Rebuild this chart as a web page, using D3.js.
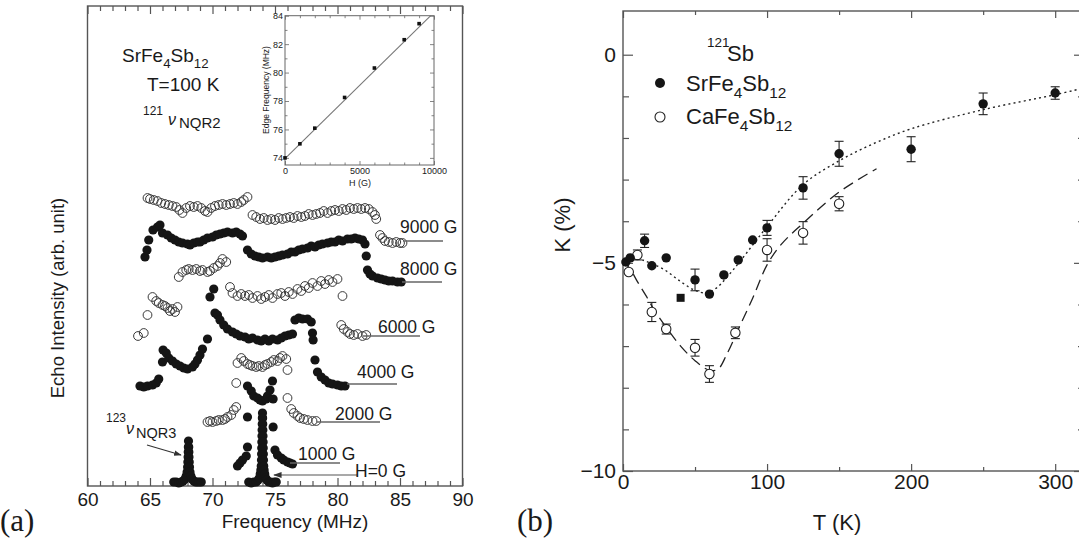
<!DOCTYPE html>
<html><head><meta charset="utf-8">
<script src="https://cdn.jsdelivr.net/npm/d3@7"></script>
<style>
body{margin:0;background:#fff}
svg{display:block}
text{font-family:Arial,"Liberation Sans",Helvetica,sans-serif;fill:#1a1a1a}
</style></head>
<body><svg id="c" width="1079" height="548"></svg>
<script>
// ================= Panel (a) data : [frequency MHz, echo intensity arb.] =================
const freqTicks = [60,65,70,75,80,85,90];
const spec9000 = [[64.8,144],[65.0,143.5],[65.3,143],[65.6,142.5],[65.9,141.5],[66.2,141],[66.5,140.5],[66.8,140],[67.1,139.5],[67.35,138],[67.6,136.5],[67.9,139],[68.2,140],[68.5,139.5],[68.8,140],[69.1,139],[69.4,137.5],[69.6,137],[69.9,139],[70.2,140],[70.5,140.5],[70.8,141],[71.1,140.5],[71.4,141],[71.7,141.5],[72.0,141],[72.3,142],[72.5,143],[72.8,144.5],
[73.2,135.5],[73.5,134.5],[73.8,133.5],[74.1,134],[74.4,133],[74.7,133.5],[75.0,133],[75.3,134],[75.6,133.5],[75.9,134],[76.2,134.5],[76.5,134],[76.8,135],[77.1,134.5],[77.4,135],[77.7,136],[78.0,135.5],[78.3,136],[78.6,136.5],[78.9,137.5],[79.2,136.5],[79.5,137.5],[79.8,138],[80.1,137.5],[80.4,138.5],[80.7,138],[81.0,139],[81.3,138.5],[81.6,139],[81.9,138.5],[82.2,139],[82.5,138.5],[82.8,137],[83.0,135.5],[83.1,133.5],
[83.4,125.5],[83.6,124],[83.8,122.5],[84.1,122],[84.4,121.5],[84.7,122],[85.0,121.5],[85.2,121.5]];
const spec8000 = [[64.6,114.5],[64.76,118],[64.9,123],[65.24,128],[65.6,129.5],[65.8,130.5],[66.0,126.5],[66.4,125.5],[66.7,124],[67.0,123],[67.3,122],[67.6,121.5],[68.0,121],[68.2,120.5],[68.5,121.5],[68.8,122],[69.0,122],[69.3,123],[69.6,124],[70.0,124.5],[70.3,125.5],[70.6,126],[70.9,126.5],[71.2,127],[71.6,126.5],[71.9,127],[72.2,126],[72.4,125],
[72.8,118],[73.1,116],[73.4,115],[73.7,114.5],[74.0,114],[74.4,114.5],[74.7,114],[75.0,114.5],[75.3,115],[75.6,115.5],[76.0,116],[76.3,117],[76.6,117],[76.9,118],[77.2,118.5],[77.6,119],[77.9,120],[78.2,119.5],[78.5,120.5],[78.8,121],[79.2,121.5],[79.5,122],[79.8,122],[80.1,123],[80.4,122.5],[80.8,123.5],[81.1,123.5],[81.4,124],[81.7,123.5],[82.0,123],[82.2,121],[82.3,115],
[82.4,108],[82.6,106],[82.8,105],[83.2,104],[83.5,103.5],[83.8,103],[84.1,102.5],[84.4,102.5],[84.8,102],[85.1,102]];
const spec6000 = [[64.04,75],[64.5,76.5],[64.8,85.5],[65.2,94.5],[65.5,92.5],[65.7,91.5],[66.0,90.5],[66.2,90],[66.4,89],[66.6,87.5],[66.8,88.5],[67.0,87],[67.2,89.5],
[67.3,104.5],[67.6,107],[67.9,108],[68.1,108.5],[68.4,108],[68.7,108.5],[69.0,107.5],[69.2,108],[69.6,107],[69.8,107.5],[70.1,109],[70.4,110],[70.6,111.5],[70.8,113.5],[71.1,112],
[71.4,99.5],[71.6,96.5],[72.0,95],[72.3,96],[72.6,95],[72.9,95.5],[73.2,94],[73.6,95],[73.9,93.5],[74.2,94.5],[74.5,95.5],[74.8,94],[75.2,96],[75.5,96.5],[75.8,95],[76.1,97],[76.4,96],[76.8,98.5],[77.1,97.5],[77.4,100],[77.7,99],[78.0,101.5],[78.4,100],[78.7,102.5],[79.0,101],[79.3,103],[79.6,102],[80.0,103.5],[80.4,95],
[80.3,80.5],[80.5,78.5],[80.8,77],[81.0,76],[81.3,75.5],[81.6,76],[82.0,75],[82.3,75.5]];
const spec4000 = [[64.2,50],[64.5,49.5],[64.8,50],[65.2,50.5],[65.5,51.5],[65.7,53.5],[66.0,62],[66.05,68],
[66.3,66.5],[66.5,64],[66.8,62.5],[67.1,61],[67.4,60],[67.7,59],[68.0,58.5],[68.4,59.5],[68.6,61],[68.8,63],[69.0,65.5],[69.2,68.5],[69.6,73.5],
[69.8,94.5],[70.1,98.5],
[70.2,86.5],[70.4,85.5],[70.6,83],[70.9,80.5],[71.2,78.5],[71.6,77],[71.9,76],[72.2,75],[72.6,74.5],[72.9,73.5],[73.2,74],[73.6,73],[73.9,72.5],[74.2,73.5],[74.5,72.5],[74.8,73.5],[75.2,73],[75.5,74],[75.8,75],[76.1,75.5],[76.4,76],
[76.6,83],[76.9,84],[77.2,83.5],[77.6,83.5],[77.9,82],
[78.0,76.5],[78.05,73],[78.2,63],
[78.4,57],[78.7,54.5],[79.0,53],[79.3,51.5],[79.6,51],[80.0,50.5],[80.3,50],[80.6,50]];
const spec2000 = [[69.6,32],[69.8,32.5],[70.0,32],[70.3,32.5],[70.5,33],[70.8,33],[71.0,33.5],[71.2,34.5],[71.5,35.5],[71.7,38],[71.9,39.5],[71.9,51.5],
[72.0,61.5],[72.3,64],[72.5,62.5],[72.8,61],[73.0,60.5],[73.2,60],[73.5,59.5],[73.7,60],[74.0,59.5],[74.2,60.5],[74.4,61],[74.7,62],[74.9,63],[75.2,62.5],[75.4,64],[75.6,65],[75.9,63.5],[76.0,58],[76.0,44],
[76.3,38.5],[76.5,36.5],[76.8,35],[77.0,34],[77.3,33.5],[77.6,33],[78.0,32.5],[78.3,32.5]];
const spec1000 = [[72.0,10],[72.2,11.5],[72.4,13],[72.7,15],[72.8,19.5],[72.8,34.5],[72.8,50],[73.1,47.5],[73.3,45],[73.6,44],[73.8,43],[74.0,42.5],[74.3,43.5],[74.4,45],[74.6,48],[74.8,52.5],[74.85,43.5],[74.85,29.5],[75.0,18],[75.2,15.5],[75.5,14],[75.7,13],[76.0,12],[76.2,11.5],[76.4,11]];
const spec0 = [[72.9,2],[73.1,1.5],[73.3,2],[73.5,2],[73.65,3],[73.75,4],[73.82,6],[73.87,8],[73.9,10],[73.92,13],[73.93,16],[73.94,19],[73.95,22],[73.96,25],[73.97,28],[73.98,31],[73.99,34],[74.0,36.5],
[74.01,34],[74.02,31],[74.03,28],[74.04,25],[74.05,22],[74.06,19],[74.07,16],[74.08,13],[74.1,10],[74.13,8],[74.18,6],[74.25,4],[74.35,3],[74.5,2],[74.65,2],[74.8,1.5],[74.95,2],[75.1,2]];
const specNQR3 = [[66.9,2],[67.1,2],[67.3,1.5],[67.5,2],[67.65,2.5],[67.8,3.5],[67.9,5],[67.97,7],[68.01,9.5],[68.03,12],[68.05,14.5],[68.06,17],[68.07,19.5],[68.08,22.5],
[68.1,19.5],[68.11,17],[68.12,14.5],[68.14,12],[68.16,9.5],[68.2,7],[68.27,5],[68.37,3.5],[68.5,2.5],[68.65,2],[68.8,2],[68.95,2],[69.1,2]];
const fieldLabels = ["9000 G","8000 G","6000 G","4000 G","2000 G","1000 G"];

// inset data
const insetH = [0,1000,2000,4000,6000,8000,9000];
const insetEdge = [74.0,74.99,76.09,78.25,80.32,82.31,83.44];
const insetFit = [[0,73.95],[9780,84]];

// ================= Panel (b) data =================
const srT   = [2,5,15,20,30,50,60,70,80,90,100,125,150,200,250,300];
const srK   = [-4.98,-4.88,-4.47,-5.07,-4.88,-5.41,-5.75,-5.29,-4.93,-4.45,-4.16,-3.2,-2.38,-2.27,-1.18,-0.92];
const srErr = [0,0,0.16,0,0,0.26,0,0,0,0,0.18,0.27,0.3,0.3,0.26,0.15];
const srSquare = [[40,-5.84]];
const caT   = [4,10,20,30,50,60,78,100,125,150];
const caK   = [-5.22,-4.81,-6.18,-6.59,-7.04,-7.67,-6.68,-4.69,-4.28,-3.58];
const caErr = [0,0.12,0.23,0.12,0.2,0.2,0.14,0.27,0.27,0.17];
const srFit = [[3,-4.8],[15,-4.95],[28,-5.15],[40,-5.45],[50,-5.66],[58,-5.72],[65,-5.6],[72,-5.35],[82,-4.93],[100,-4.13],[125,-3.12],[150,-2.55],[175,-2.12],[200,-1.78],[250,-1.32],[300,-0.96],[320,-0.8]];
const caFit = [[0,-4.95],[5,-5.15],[10,-5.45],[17,-5.85],[22,-6.15],[30,-6.55],[40,-7.0],[50,-7.35],[60,-7.58],[66,-7.55],[72,-7.2],[80,-6.6],[90,-5.85],[100,-5.05],[110,-4.55],[125,-4.05],[150,-3.3],[176,-2.74]];
const tTicks = [0,100,200,300];
const kTicks = [0,-5,-10];

// ================= drawing =================
const svg = d3.select("#c");
const FRAME = "#555";
const defs = svg.append("defs");
defs.append("marker").attr("id","arr").attr("viewBox","0 0 10 10").attr("refX",9).attr("refY",5)
  .attr("markerWidth",7).attr("markerHeight",7).attr("orient","auto-start-reverse")
  .append("path").attr("d","M0,1.5 L10,5 L0,8.5 Z").attr("fill","#333");

function styleAxis(g, fs){
  g.attr("font-size",null).attr("font-family",null);
  g.select(".domain").remove();
  g.selectAll("line").attr("stroke",FRAME).attr("stroke-width",1.2);
  g.selectAll("text").attr("font-size",fs).attr("fill","#1a1a1a");
}
function rich(g, x, y, parts, size, anchor){
  const t = g.append("text").attr("x",x).attr("y",y).attr("font-size",size).attr("text-anchor",anchor||"start");
  let shift = 0;
  parts.forEach(([s,k])=>{
    const target = k==="sub" ? size*0.3 : k==="sup" ? -size*0.42 : 0;
    t.append("tspan").text(s).attr("dy",target-shift).attr("font-size",k? size*0.7 : size);
    shift = target;
  });
  return t;
}

// ---------- Panel (a) ----------
const xA = d3.scaleLinear().domain([60,90]).range([87.5,462.5]);
const yA = d3.scaleLinear().domain([0,240]).range([486,6]);
const gA = svg.append("g");
const minorF = d3.range(60,91).filter(d=>d%5!==0);

gA.append("g").attr("transform",`translate(0,${yA(0)})`)
  .call(d3.axisBottom(xA).tickValues(freqTicks).tickSizeInner(-8).tickSizeOuter(0).tickPadding(7).tickFormat(d3.format("d")))
  .call(g=>styleAxis(g,19));
gA.append("g").attr("transform",`translate(0,${yA(0)})`)
  .call(d3.axisBottom(xA).tickValues(minorF).tickSizeInner(-5).tickSizeOuter(0).tickFormat(""))
  .call(g=>styleAxis(g,19));
gA.append("g").attr("transform",`translate(0,${yA(240)})`)
  .call(d3.axisTop(xA).tickValues(freqTicks).tickSizeInner(-8).tickSizeOuter(0).tickFormat(""))
  .call(g=>styleAxis(g,19));
gA.append("g").attr("transform",`translate(0,${yA(240)})`)
  .call(d3.axisTop(xA).tickValues(minorF).tickSizeInner(-5).tickSizeOuter(0).tickFormat(""))
  .call(g=>styleAxis(g,19));
gA.append("rect").attr("x",xA(60)).attr("y",yA(240)).attr("width",xA(90)-xA(60)).attr("height",yA(0)-yA(240))
  .attr("fill","none").attr("stroke",FRAME).attr("stroke-width",1.4);

const spectra = [
  {data:spec9000, open:true},{data:spec8000, open:false},{data:spec6000, open:true},
  {data:spec4000, open:false},{data:spec2000, open:true},{data:spec1000, open:false},
  {data:spec0, open:false},{data:specNQR3, open:false}
];
spectra.forEach(s=>{
  gA.append("g").selectAll("circle").data(s.data).join("circle")
    .attr("cx",d=>xA(d[0])).attr("cy",d=>yA(d[1])).attr("r",s.open?4.4:4.6)
    .attr("fill",s.open?"none":"#151515")
    .attr("stroke",s.open?"#3a3a3a":"none").attr("stroke-width",1);
});

// field labels with leader lines (pixel positions of annotations)
const labelPos = [
  {tx:400,ty:233,x1:403,x2:443,ly:241},
  {tx:400,ty:275,x1:402,x2:442,ly:282},
  {tx:378,ty:333,x1:363,x2:420,ly:336},
  {tx:357,ty:378,x1:347,x2:397,ly:384},
  {tx:335,ty:420,x1:317,x2:380,ly:422},
  {tx:298,ty:460,x1:290,x2:340,ly:463}
];
fieldLabels.forEach((lab,i)=>{
  const p = labelPos[i];
  gA.append("line").attr("x1",p.x1).attr("x2",p.x2).attr("y1",p.ly).attr("y2",p.ly).attr("stroke","#666").attr("stroke-width",1.3);
  gA.append("text").attr("x",p.tx).attr("y",p.ty).attr("font-size",17.5).text(lab);
});
gA.append("line").attr("x1",357).attr("x2",274).attr("y1",475).attr("y2",475)
  .attr("stroke","#555").attr("stroke-width",1.2).attr("marker-end","url(#arr)");
gA.append("text").attr("x",355).attr("y",477).attr("font-size",17.5).text("H=0 G");
gA.append("line").attr("x1",147).attr("y1",445).attr("x2",181).attr("y2",455)
  .attr("stroke","#333").attr("stroke-width",1.1).attr("marker-end","url(#arr)");

rich(gA,122,62,[["SrFe"],["4","sub"],["Sb"],["12","sub"]],19);
gA.append("text").attr("x",147).attr("y",91).attr("font-size",19).text("T=100 K");
gA.append("text").attr("x",143).attr("y",115).attr("font-size",12).text("121");
gA.append("text").attr("x",168).attr("y",125).attr("font-size",16).attr("font-style","italic").text("ν");
gA.append("text").attr("x",179).attr("y",128).attr("font-size",15).text("NQR2");
gA.append("text").attr("x",106).attr("y",422).attr("font-size",12).text("123");
gA.append("text").attr("x",126).attr("y",434).attr("font-size",16).attr("font-style","italic").text("ν");
gA.append("text").attr("x",136).attr("y",438).attr("font-size",14.5).text("NQR3");

gA.append("text").attr("x",295).attr("y",528).attr("text-anchor","middle").attr("font-size",19).text("Frequency (MHz)");
gA.append("text").attr("transform","translate(64,298) rotate(-90)").attr("text-anchor","middle").attr("font-size",18.5).text("Echo Intensity (arb. unit)");
svg.append("text").attr("x",0).attr("y",531).attr("font-size",31).style("font-family","'Liberation Serif','Times New Roman',serif").text("(a)");

// ---------- Inset ----------
const xI = d3.scaleLinear().domain([0,10000]).range([285,434]);
const yI = d3.scaleLinear().domain([73.5,84]).range([165,15.7]);
const gI = svg.append("g");
gI.append("rect").attr("x",285).attr("y",yI(84)).attr("width",149).attr("height",yI(73.5)-yI(84)).attr("fill","#fff");
const iy = [74,76,78,80,82,84], iyMin=[75,77,79,81,83];
const ix = [0,5000,10000], ixMin=[1000,2000,3000,4000,6000,7000,8000,9000];
gI.append("g").attr("transform","translate(285,0)").call(d3.axisLeft(yI).tickValues(iy).tickSizeInner(-4).tickSizeOuter(0).tickPadding(2)).call(g=>styleAxis(g,9));
gI.append("g").attr("transform","translate(285,0)").call(d3.axisLeft(yI).tickValues(iyMin).tickSizeInner(-2.5).tickSizeOuter(0).tickFormat("")).call(g=>styleAxis(g,9));
gI.append("g").attr("transform","translate(434,0)").call(d3.axisRight(yI).tickValues(iy).tickSizeInner(-4).tickSizeOuter(0).tickFormat("")).call(g=>styleAxis(g,9));
gI.append("g").attr("transform","translate(434,0)").call(d3.axisRight(yI).tickValues(iyMin).tickSizeInner(-2.5).tickSizeOuter(0).tickFormat("")).call(g=>styleAxis(g,9));
gI.append("g").attr("transform",`translate(0,${yI(73.5)})`).call(d3.axisBottom(xI).tickValues(ix).tickSizeInner(-4).tickSizeOuter(0).tickPadding(3).tickFormat(d3.format("d"))).call(g=>styleAxis(g,9));
gI.append("g").attr("transform",`translate(0,${yI(73.5)})`).call(d3.axisBottom(xI).tickValues(ixMin).tickSizeInner(-2.5).tickSizeOuter(0).tickFormat("")).call(g=>styleAxis(g,9));
gI.append("g").attr("transform",`translate(0,${yI(84)})`).call(d3.axisTop(xI).tickValues(ix).tickSizeInner(-4).tickSizeOuter(0).tickFormat("")).call(g=>styleAxis(g,9));
gI.append("g").attr("transform",`translate(0,${yI(84)})`).call(d3.axisTop(xI).tickValues(ixMin).tickSizeInner(-2.5).tickSizeOuter(0).tickFormat("")).call(g=>styleAxis(g,9));
gI.selectAll("line").attr("stroke-width",0.8).attr("stroke","#666");
gI.append("rect").attr("x",285).attr("y",yI(84)).attr("width",149).attr("height",yI(73.5)-yI(84)).attr("fill","none").attr("stroke","#666").attr("stroke-width",1);
gI.append("path").datum(insetFit).attr("d",d3.line().x(d=>xI(d[0])).y(d=>yI(d[1]))).attr("stroke","#777").attr("stroke-width",1.1).attr("fill","none");
gI.selectAll("rect.pt").data(insetH.map((h,i)=>[h,insetEdge[i]])).join("rect").attr("class","pt")
  .attr("x",d=>xI(d[0])-1.8).attr("y",d=>yI(d[1])-1.8).attr("width",3.6).attr("height",3.6).attr("fill","#111");
gI.append("text").attr("x",360).attr("y",186).attr("text-anchor","middle").attr("font-size",9).attr("fill","#333").text("H (G)");
gI.append("text").attr("transform","translate(269,90) rotate(-90)").attr("text-anchor","middle").attr("font-size",8.5).attr("fill","#333").text("Edge Frequency (MHz)");

// ---------- Panel (b) ----------
const xB = d3.scaleLinear().domain([0,320]).range([623,1084]);
const yB = d3.scaleLinear().domain([-10,1.05]).range([471,11]);
const gB = svg.append("g");
const tMin=[50,150,250], kMin=d3.range(-9,1).filter(d=>d!==-5 && d!==0);
gB.append("g").attr("transform",`translate(0,${yB(-10)})`).call(d3.axisBottom(xB).tickValues(tTicks).tickSizeInner(-7).tickSizeOuter(0).tickPadding(3)).call(g=>styleAxis(g,21));
gB.append("g").attr("transform",`translate(0,${yB(-10)})`).call(d3.axisBottom(xB).tickValues(tMin).tickSizeInner(-4).tickSizeOuter(0).tickFormat("")).call(g=>styleAxis(g,21));
gB.append("g").attr("transform",`translate(0,${yB(1.05)})`).call(d3.axisTop(xB).tickValues(tTicks).tickSizeInner(-7).tickSizeOuter(0).tickFormat("")).call(g=>styleAxis(g,21));
gB.append("g").attr("transform",`translate(0,${yB(1.05)})`).call(d3.axisTop(xB).tickValues(tMin).tickSizeInner(-4).tickSizeOuter(0).tickFormat("")).call(g=>styleAxis(g,21));
gB.append("g").attr("transform",`translate(${xB(0)},0)`).call(d3.axisLeft(yB).tickValues(kTicks).tickSizeInner(-10).tickSizeOuter(0).tickPadding(7)).call(g=>styleAxis(g,21));
gB.append("g").attr("transform",`translate(${xB(0)},0)`).call(d3.axisLeft(yB).tickValues(kMin).tickSizeInner(-6).tickSizeOuter(0).tickFormat("")).call(g=>styleAxis(g,21));
gB.append("g").attr("transform",`translate(${xB(320)},0)`).call(d3.axisRight(yB).tickValues(kTicks).tickSizeInner(-10).tickSizeOuter(0).tickFormat("")).call(g=>styleAxis(g,21));
gB.append("g").attr("transform",`translate(${xB(320)},0)`).call(d3.axisRight(yB).tickValues(kMin).tickSizeInner(-6).tickSizeOuter(0).tickFormat("")).call(g=>styleAxis(g,21));
gB.append("rect").attr("x",xB(0)).attr("y",yB(1.05)).attr("width",xB(320)-xB(0)).attr("height",yB(-10)-yB(1.05))
  .attr("fill","none").attr("stroke",FRAME).attr("stroke-width",1.4);

const lineB = d3.line().x(d=>xB(d[0])).y(d=>yB(d[1])).curve(d3.curveCatmullRom.alpha(0.5));
gB.append("path").datum(srFit).attr("d",lineB).attr("fill","none").attr("stroke","#222").attr("stroke-width",1.4).attr("stroke-dasharray","2,3.2");
gB.append("path").datum(caFit).attr("d",lineB).attr("fill","none").attr("stroke","#222").attr("stroke-width",1.3).attr("stroke-dasharray","11,6");

function errBars(T,K,E){
  T.forEach((t,i)=>{
    if(!E[i]) return;
    const x=xB(t), y1=yB(K[i]-E[i]), y2=yB(K[i]+E[i]);
    gB.append("line").attr("x1",x).attr("x2",x).attr("y1",y1).attr("y2",y2).attr("stroke","#222").attr("stroke-width",1.1);
    [y1,y2].forEach(y=>gB.append("line").attr("x1",x-4.5).attr("x2",x+4.5).attr("y1",y).attr("y2",y).attr("stroke","#222").attr("stroke-width",1.1));
  });
}
errBars(srT,srK,srErr); errBars(caT,caK,caErr);
gB.append("g").selectAll("circle").data(caT.map((t,i)=>[t,caK[i]])).join("circle")
  .attr("cx",d=>xB(d[0])).attr("cy",d=>yB(d[1])).attr("r",4.7).attr("fill","#fff").attr("stroke","#222").attr("stroke-width",1.1);
gB.append("g").selectAll("circle").data(srT.map((t,i)=>[t,srK[i]])).join("circle")
  .attr("cx",d=>xB(d[0])).attr("cy",d=>yB(d[1])).attr("r",4.7).attr("fill","#151515");
gB.append("g").selectAll("rect").data(srSquare).join("rect")
  .attr("x",d=>xB(d[0])-4).attr("y",d=>yB(d[1])-4).attr("width",8).attr("height",8).attr("fill","#151515");

// legend
gB.append("text").attr("x",707).attr("y",47).attr("font-size",13.5).text("121");
gB.append("text").attr("x",727).attr("y",61).attr("font-size",22).text("Sb");
gB.append("circle").attr("cx",660).attr("cy",83).attr("r",5).attr("fill","#151515");
gB.append("circle").attr("cx",660).attr("cy",117).attr("r",5).attr("fill","#fff").attr("stroke","#222").attr("stroke-width",1.1);
rich(gB,686,91,[["SrFe"],["4","sub"],["Sb"],["12","sub"]],22);
rich(gB,686,124,[["CaFe"],["4","sub"],["Sb"],["12","sub"]],22);

gB.append("text").attr("x",837).attr("y",530).attr("text-anchor","middle").attr("font-size",22).text("T (K)");
gB.append("text").attr("transform","translate(570,225) rotate(-90)").attr("text-anchor","middle").attr("font-size",22).text("K (%)");
svg.append("text").attr("x",517).attr("y",531).attr("font-size",31).style("font-family","'Liberation Serif','Times New Roman',serif").text("(b)");
</script></body></html>
